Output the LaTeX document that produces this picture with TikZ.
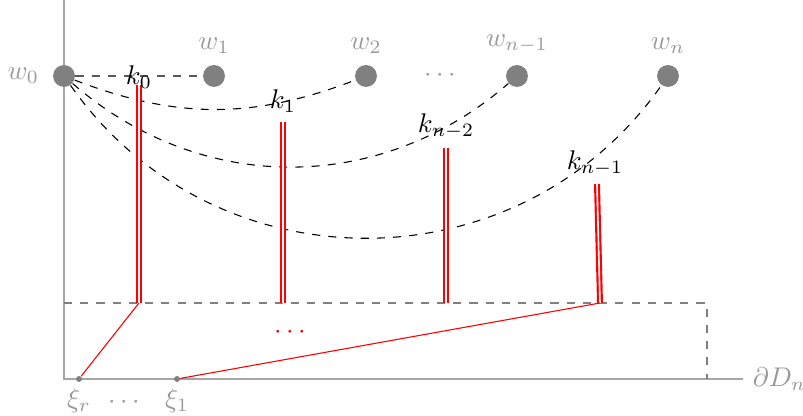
\documentclass[tikz,border=0pt]{standalone}
\usetikzlibrary{positioning}
\begin{document}
\begin{tikzpicture}[x=0.37pt,y=0.37pt,inner sep=2pt,
  vertex/.style={circle,fill=gray,inner sep=0pt,minimum size=8.1pt},
  foot/.style={circle,fill=gray,inner sep=0pt,minimum size=2.2pt},
  glabel/.style={text=gray!80},
  cut/.style={red,thick,double=white},
  curve/.style={dashed}]
  \useasboundingbox (0,0) rectangle (803,416);
  \coordinate (top) at (64,416);
  \coordinate (origin) at (64,37);
  \coordinate (xend) at (743,37);
  \draw[gray!70] (top) -- (origin) -- (xend);
  \node[glabel,right=1.5pt of xend] (dD) {$\partial D_n$};
  \coordinate (r0) at (64,113);
  \coordinate (r1) at (707,113);
  \coordinate (r2) at (707,37);
  \draw[gray,dashed] (r0) -- (r1) -- (r2);
  \foreach \i/\x in {0/64,1/214,2/366,3/517,4/668}
    \node[vertex] (w\i) at (\x,340) {};
  \node[glabel,left=2.8pt of w0] (lw0) {$w_0$};
  \foreach \i/\t in {1/w_1,2/w_2,3/w_{n-1},4/w_n}
    \node[glabel,above=2pt of w\i] (lw\i) {$\t$};
  \node[glabel] (wdots) at (440,340) {$\cdots$};
  \draw[curve,black!65] (w0) -- (w1);
  \draw[curve] (w0) to[bend right=21] (w2);
  \draw[curve] (w0) to[bend right=41] (w3);
  \draw[curve] (w0) to[bend right=55,looseness=1.08] (w4);
  \foreach \i/\xt/\yt/\xb/\xl/\yl/\t in {0/139/331/139/139/339/k_0,1/283/294/283/283/315/k_1,
    2/446/268/446/446/290/k_{n-2},3/597/232/600/595/253/k_{n-1}}
  {
    \coordinate (t\i) at (\xt,\yt);
    \coordinate (b\i) at (\xb,113);
    \draw[cut] (b\i) -- (t\i);
    \node (k\i) at (\xl,\yl) {$\t$};
  }
  \node[foot] (xr) at (79,37) {};
  \node[foot] (x1) at (177,37) {};
  \node[glabel,below=0pt of xr] (lxr) {$\xi_r$};
  \node[glabel,below=0pt of x1] (lx1) {$\xi_1$};
  \node[glabel] (xdots) at (124,13) {$\cdots$};
  \draw[red] (b0) -- (xr);
  \draw[red] (b3) -- (x1);
  \node[text=red] (rdots) at (290,83) {$\cdots$};
\end{tikzpicture}
\end{document}
